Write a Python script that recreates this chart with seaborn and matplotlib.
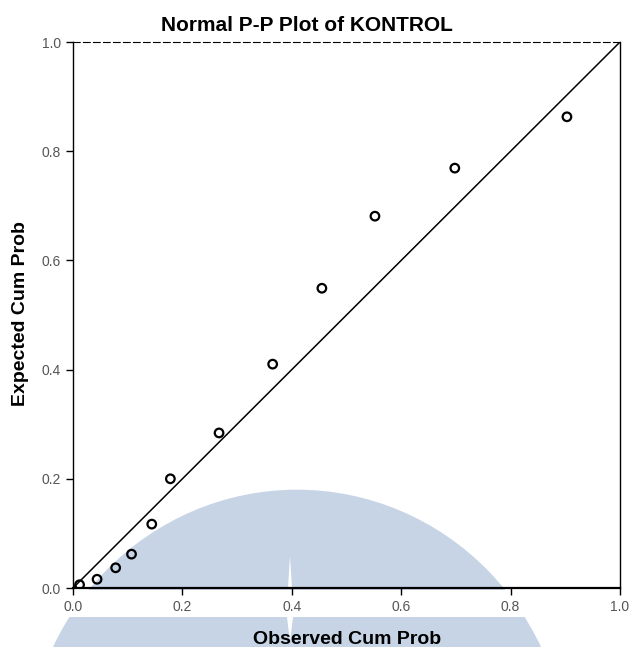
import numpy as np
import matplotlib
matplotlib.use("Agg")
import matplotlib.pyplot as plt
from matplotlib.patches import Circle, Rectangle, Polygon
import seaborn as sns

# P-P plot values
observed = [0.012, 0.044, 0.078, 0.107, 0.144, 0.178, 0.267, 0.365, 0.455, 0.552, 0.698, 0.903]
expected = [0.006, 0.016, 0.037, 0.062, 0.117, 0.200, 0.284, 0.410, 0.549, 0.681, 0.769, 0.863]
ref_line = [0.0, 1.0]
tick_vals = [0.0, 0.2, 0.4, 0.6, 0.8, 1.0]
tick_labels = ["0.0", "0.2", "0.4", "0.6", "0.8", "1.0"]

sns.set_style("white")
plt.rcParams['font.family'] = ['Liberation Sans', 'DejaVu Sans']

fig = plt.figure(figsize=(6.3, 6.47), dpi=100)
ax = fig.add_axes([73/630, 59/647, 547/630, 546/647])
ax.patch.set_alpha(0)

#faded logo watermark behind the plot (figure pixel coords)
W, H = 630, 647
tr = fig.transFigure
blue = "#c7d4e6"
fig.patches.append(Circle((297/W, (H-768)/H), 271/W, transform=tr, facecolor=blue,
                          edgecolor="none", zorder=-5))
fig.patches.append(Rectangle((0, (H-617)/H), 1, 27/H, transform=tr, facecolor="white",
                             edgecolor="none", zorder=-4))
fig.patches.append(Polygon([(288/W, (H-588)/H), (292/W, (H-588)/H), (290/W, (H-556)/H)],
                           closed=True, transform=tr, facecolor="white", edgecolor="none", zorder=-4))
fig.patches.append(Polygon([(287/W, (H-617)/H), (293/W, (H-617)/H), (290/W, (H-642)/H)],
                           closed=True, transform=tr, facecolor="white", edgecolor="none", zorder=-4))

sns.lineplot(x=ref_line, y=ref_line, ax=ax, color="black", linewidth=1.1)
sns.scatterplot(x=observed, y=expected, ax=ax, s=38, facecolor="none",
                edgecolor="black", linewidth=1.6, zorder=3)

ax.set_xlim(0, 1)
ax.set_ylim(0, 1)
ax.set_xticks(tick_vals)
ax.set_xticklabels(tick_labels)
ax.set_yticks(tick_vals)
ax.set_yticklabels(tick_labels)
ax.tick_params(direction="out", length=5, width=1, color="black", labelsize=10,
               labelcolor="#555555", left=True, bottom=True)

for side in ["left", "right", "top", "bottom"]:
    ax.spines[side].set_visible(True)
    ax.spines[side].set_color("black")
    ax.spines[side].set_linewidth(1.0)
ax.spines["top"].set_linestyle((0, (6, 3)))
ax.spines["top"].set_linewidth(0.8)
ax.spines["bottom"].set_linewidth(1.6)

ax.set_title("Normal P-P Plot of KONTROL", fontsize=15, fontweight="bold", color="black",
             y=1 + 11 / 546, pad=0)
ax.title.set_x((307 - 73) / 547)
ax.set_xlabel("Observed Cum Prob", fontsize=14, fontweight="bold", color="black")
ax.set_ylabel("Expected Cum Prob", fontsize=14, fontweight="bold", color="black")
ax.xaxis.set_label_coords((347 - 73) / 547, -(631 - 588) / 546)
ax.yaxis.set_label_coords(-(73 - 29) / 547, (588 - 314) / 546)

fig.savefig("out.png", dpi=100)
